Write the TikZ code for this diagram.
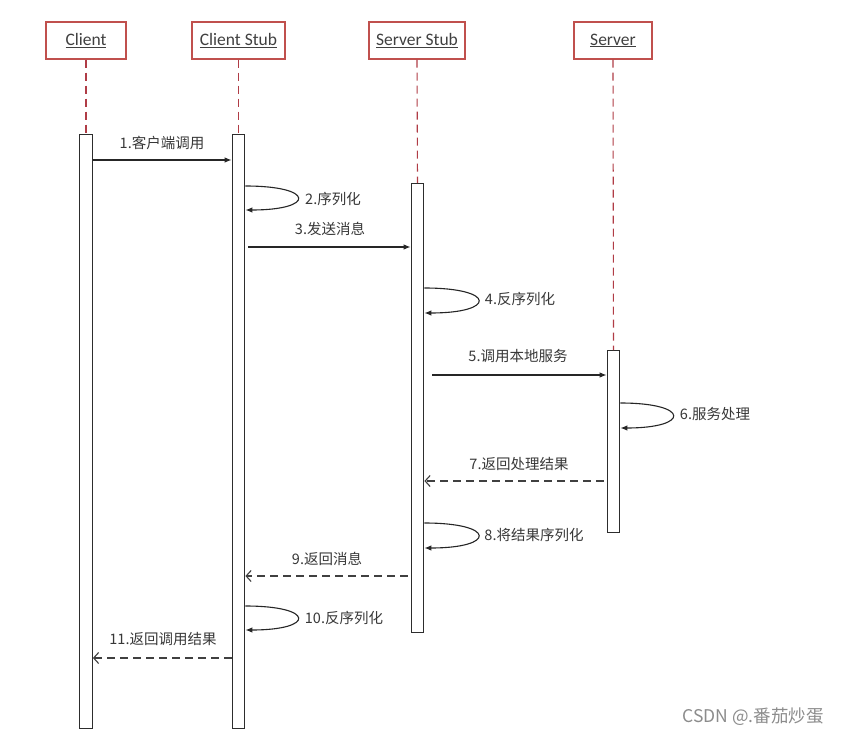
\documentclass[tikz,border=0pt]{standalone}
\usepackage{fontspec}
\setmainfont{Carlito}
\newfontfamily\cjk{Noto Sans CJK SC}
\usetikzlibrary{arrows.meta}
\definecolor{headred}{RGB}{192,80,77}
\definecolor{lifered}{RGB}{176,60,70}
\definecolor{txtgray}{RGB}{64,64,64}
\definecolor{barline}{RGB}{45,45,45}
\definecolor{wmgray}{RGB}{140,140,140}
\begin{document}
\begin{tikzpicture}[x=1pt,y=-1pt,
  head/.style={draw=headred, line width=1.3pt, fill=white, minimum height=37pt, inner sep=0pt, font=\fontsize{17.5}{20}\selectfont, text=txtgray},
  bar/.style={draw=barline, line width=1.3pt, fill=white, minimum width=12.5pt, inner sep=0pt, anchor=north},
  life/.style={draw=lifered, line width=1.1pt, dash pattern=on 8pt off 5pt},
  msg/.style={draw=black!85, line width=1.1pt, -{Latex[length=7pt,width=5.5pt]}},
  ret/.style={draw=black!75, line width=1.1pt, dash pattern=on 8pt off 5pt, -{Straight Barb[length=5pt,width=11pt]}},
  lbl/.style={font=\cjk\fontsize{14.5}{17}\selectfont, text=black!78, inner sep=0pt}
]
\useasboundingbox (0,0) rectangle (845,735);
\fill[white] (0,0) rectangle (845,735);

% headers
\node[head, minimum width=80pt] (hc) at (86,40.5) {\underline{Client}};
\node[head, minimum width=93pt] (hcs) at (238.5,40.5) {\underline{Client Stub}};
\node[head, minimum width=96pt] (hss) at (417,40.5) {\underline{Server Stub}};
\node[head, minimum width=78pt] (hs) at (613,40.5) {\underline{Server}};

% activation bars
\node[bar, minimum height=594pt] (bc) at (86,134) {};
\node[bar, minimum height=594pt] (bcs) at (238.5,134) {};
\node[bar, minimum height=449pt] (bss) at (417.5,183) {};
\node[bar, minimum height=182pt] (bs) at (613.5,350) {};

% lifelines
\draw[life] (hc.south) -- (bc.north);
\draw[life] (hcs.south) -- (bcs.north);
\draw[life] (hss.south) -- (bss.north);
\draw[life] (hs.south) -- (bs.north);

% 1
\draw[msg] (bc.east |- 0,160) -- (bcs.west |- 0,160);
\node[lbl] (l1) at (162,143) {1.客户端调用};
% 2
\draw[msg] (bcs.east |- 0,186) .. controls +(70,0) and +(70,0) .. (bcs.east |- 0,210);
\node[lbl] (l2) at (333,199) {2.序列化};
% 3
\draw[msg] ([xshift=3pt]bcs.east |- 0,247) -- (bss.west |- 0,247);
\node[lbl] (l3) at (330,229) {3.发送消息};
% 4
\draw[msg] (bss.east |- 0,288) .. controls +(72,0) and +(72,0) .. (bss.east |- 0,313);
\node[lbl] (l4) at (520,299) {4.反序列化};
% 5
\draw[msg] ([xshift=8pt]bss.east |- 0,375) -- (bs.west |- 0,375);
\node[lbl] (l5) at (518,356) {5.调用本地服务};
% 6
\draw[msg] (bs.east |- 0,403) .. controls +(70,0) and +(70,0) .. (bs.east |- 0,428);
\node[lbl] (l6) at (715,414) {6.服务处理};
% 7
\draw[ret] ([xshift=-3pt]bs.west |- 0,481) -- (bss.east |- 0,481);
\node[lbl] (l7) at (519,464) {7.返回处理结果};
% 8
\draw[msg] (bss.east |- 0,523) .. controls +(72,0) and +(72,0) .. (bss.east |- 0,548);
\node[lbl] (l8) at (534,535) {8.将结果序列化};
% 9
\draw[ret] ([xshift=-3pt]bss.west |- 0,576) -- (bcs.east |- 0,576);
\node[lbl] (l9) at (327,559) {9.返回消息};
% 10
\draw[msg] (bcs.east |- 0,606) .. controls +(70,0) and +(70,0) .. (bcs.east |- 0,630);
\node[lbl] (l10) at (344,618) {10.反序列化};
% 11
\draw[ret] (bcs.west |- 0,658) -- (bc.east |- 0,658);
\node[lbl] (l11) at (163,639) {11.返回调用结果};

% watermark
\node[font=\cjk\fontsize{17.5}{20}\selectfont, text=wmgray, inner sep=0pt] (wm) at (753,717) {CSDN @.番茄炒蛋};
\end{tikzpicture}
\end{document}
